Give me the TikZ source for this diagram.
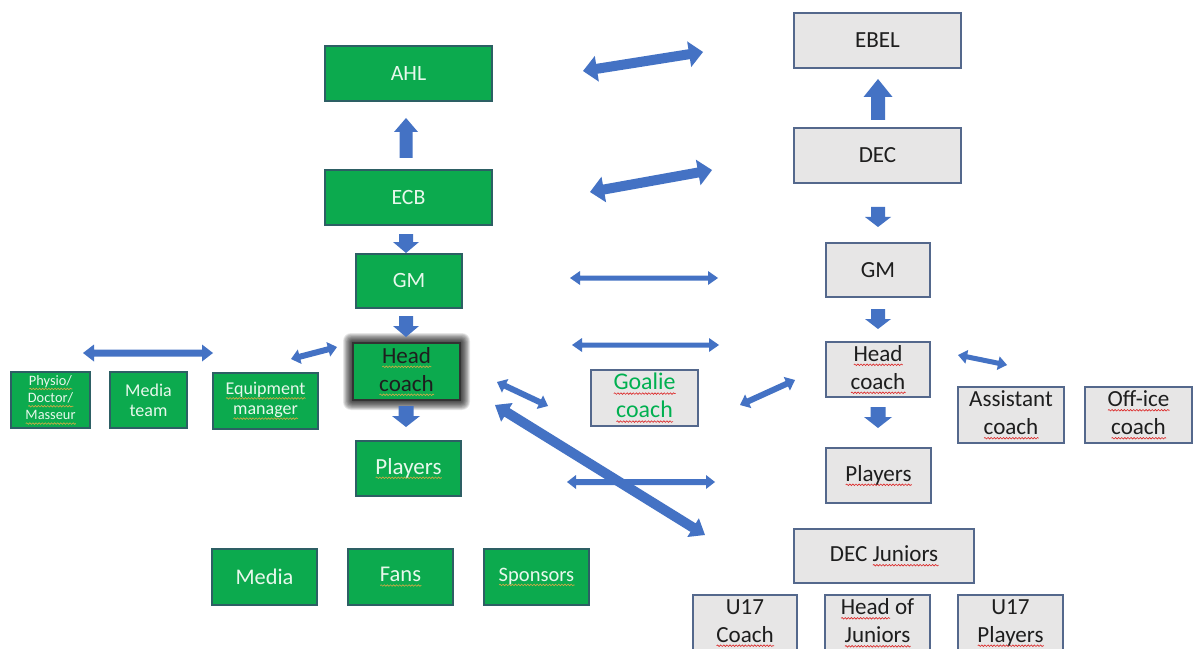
\documentclass[tikz,border=0pt]{standalone}
\usepackage{fontspec}
\setmainfont{Carlito}
\usetikzlibrary{decorations.pathmorphing}
\definecolor{boxgreen}{RGB}{12,170,78}
\definecolor{greenedge}{RGB}{45,95,100}
\definecolor{greyfill}{RGB}{231,230,230}
\definecolor{greyedge}{RGB}{84,104,140}
\definecolor{arrowblue}{RGB}{68,114,196}
\definecolor{mint}{RGB}{232,248,236}
\definecolor{goaliegreen}{RGB}{0,176,80}
\definecolor{darktext}{RGB}{30,30,30}
\definecolor{wavered}{RGB}{220,40,40}
\definecolor{waveolive}{RGB}{205,170,70}
\newdimen\wvlen
\newcommand\wv[2]{\setbox0\hbox{#2}\wvlen=\wd0\relax\leavevmode\rlap{\tikz[baseline=0pt]\draw[#1, fill=none, line width=0.45pt, decorate, decoration={snake, amplitude=0.55pt, segment length=2.2pt}] (0pt,-2.6pt) -- (\the\wvlen,-2.6pt);}\box0\relax}
\newcommand\wvr[1]{\wv{wavered}{#1}}
\newcommand\wvo[1]{\wv{waveolive}{#1}}
% double block arrow: x1 y1 x2 y2 halfshaft halfhead headlen
\newcommand\dbarr[7]{%
 \pgfmathsetmacro\arrAng{atan2(-(#4)+(#2),(#3)-(#1))}%
 \pgfmathsetmacro\arrLen{veclen((#3)-(#1),(#4)-(#2))}%
 \pgfmathsetmacro\arrB{\arrLen-#7}%
 \fill[arrowblue, shift={(#1,#2)}, rotate=\arrAng] (0,0) -- (#7,#6) -- (#7,#5) -- (\arrB,#5) -- (\arrB,#6) -- (\arrLen,0) -- (\arrB,-#6) -- (\arrB,-#5) -- (#7,-#5) -- (#7,-#6) -- cycle;}
% single block arrow: tail x y, tip x y, halfshaft halfhead headlen
\newcommand\sgarr[7]{%
 \pgfmathsetmacro\arrAng{atan2(-(#4)+(#2),(#3)-(#1))}%
 \pgfmathsetmacro\arrLen{veclen((#3)-(#1),(#4)-(#2))}%
 \pgfmathsetmacro\arrB{\arrLen-#7}%
 \fill[arrowblue, shift={(#1,#2)}, rotate=\arrAng] (0,#5) -- (\arrB,#5) -- (\arrB,#6) -- (\arrLen,0) -- (\arrB,-#6) -- (\arrB,-#5) -- (0,-#5) -- cycle;}
\begin{document}
\begin{tikzpicture}[x=0.025cm, y=-0.025cm,
  sz/.style 2 args={minimum width=#1*0.025cm, minimum height=#2*0.025cm},
  gbox/.style={draw=greenedge, fill=boxgreen, text=mint, line width=0.8pt, inner sep=0pt, outer sep=0pt, align=center, font=\fontsize{15.5}{19.9}\selectfont},
  grbox/.style={draw=greyedge, fill=greyfill, text=darktext, line width=0.8pt, inner sep=0pt, outer sep=0pt, align=center, font=\fontsize{16.4}{19.9}\selectfont}]
\useasboundingbox (0,0) rectangle (1200,649);
\clip (0,0) rectangle (1200,649);
\fill[white] (0,0) rectangle (1200,649);

% glow around left head coach
\foreach \g in {10,9.25,...,0.5} {
  \fill[black, opacity=0.085, rounded corners=\g*0.02cm] (353-\g,343-\g) rectangle (460+\g,400+\g);
}

% green (left) side
\node[gbox, sz={167}{55}] (ahl) at (408.5,73.5) {AHL};
\node[gbox, sz={167}{55}] (ecb) at (408.5,197.5) {ECB};
\node[gbox, sz={106}{54}] (gml) at (409,281) {GM};
\node[gbox, sz={107}{57}, draw=black!80, line width=1.2pt, text=darktext, font=\fontsize{16.4}{19.9}\selectfont] (hcl) at (406.5,371.5) {\wvo{Head}\\\wvo{coach}};
\node[gbox, sz={105}{55}, font=\fontsize{16.4}{19.9}\selectfont] (plyl) at (408.5,468.5) {\wvo{Players}};
\node[gbox, sz={79}{56}, font=\fontsize{10.2}{12.3}\selectfont] (physio) at (50.5,400) {\wvo{Physio/}\\\wvo{Doctor/}\\\wvo{Masseur}};
\node[gbox, sz={77}{56}, font=\fontsize{12.8}{14.4}\selectfont] (mteam) at (148.5,400) {Media\\team};
\node[gbox, sz={105}{56}, font=\fontsize{12.8}{14.4}\selectfont] (equip) at (265.5,401) {\wvo{Equipment}\\\wvo{manager}};
\node[gbox, sz={105}{56}, font=\fontsize{15.9}{19}\selectfont] (media) at (264.5,577) {Media};
\node[gbox, sz={105}{56}, font=\fontsize{16}{19}\selectfont] (fans) at (400.5,577) {\wvo{Fans}};
\node[gbox, sz={105}{56}, font=\fontsize{14.6}{18}\selectfont] (spons) at (536.5,577) {\wvo{Sponsors}};

% grey (right) side
\node[grbox, sz={167}{55}] (ebel) at (877.5,40.5) {EBEL};
\node[grbox, sz={167}{55}] (dec) at (877.5,155.5) {DEC};
\node[grbox, sz={104}{54}] (gmr) at (878,270) {GM};
\node[grbox, sz={104}{55}] (hcr) at (878,369.5) {\wvr{Head}\\\wvr{coach}};
\node[grbox, sz={106}{56}] (asst) at (1011,415) {Assistant\\\wvr{coach}};
\node[grbox, sz={107}{56}] (office) at (1138.5,415) {\wvr{Off-ice}\\\wvr{coach}};
\node[grbox, sz={105}{55}] (plyr) at (878.5,475.5) {\wvr{Players}};
\node[grbox, sz={180}{54}] (decj) at (884,556) {DEC \wvr{Juniors}};
\node[grbox, sz={104}{56}] (u17c) at (745,623) {U17\\\wvr{Coach}};
\node[grbox, sz={105}{56}] (hoj) at (877.5,623) {\wvr{Head} of\\\wvr{Juniors}};
\node[grbox, sz={105}{56}] (u17p) at (1010.5,623) {U17\\\wvr{Players}};
\node[grbox, sz={107}{56}, text=goaliegreen, font=\fontsize{17}{19.9}\selectfont] (goalie) at (644.5,398) {\wvr{Goalie}\\\wvr{coach}};

% vertical block arrows
\sgarr{406}{158}{406}{118}{6.5}{12}{14}
\sgarr{406}{234}{406}{253}{7}{13}{11}
\sgarr{406}{316}{406}{337}{7}{13}{11}
\sgarr{406}{406}{406}{427}{7.5}{14}{11}
\sgarr{878}{120}{878}{79}{7}{14.5}{18}
\sgarr{878}{207}{878}{227}{7}{13}{10}
\sgarr{878}{309}{878}{329}{7}{13}{10}
\sgarr{878}{407}{878}{428}{7.5}{14}{11}

% double block arrows
\dbarr{583}{71}{703}{52}{5}{13}{14}
\dbarr{590}{192}{712}{170}{5}{13}{14}
\dbarr{570}{278}{718}{278}{2.5}{7}{10}
\dbarr{572}{345}{719}{345}{2.5}{7}{10}
\dbarr{567}{482}{715}{482}{3}{7}{9}
\dbarr{83}{353}{213}{353}{3.5}{8.5}{11}
\dbarr{291}{359}{337}{347}{3}{7.5}{9}
\dbarr{497}{382}{548}{406}{3}{7.5}{9}
\dbarr{495}{405}{705}{535}{5}{11}{14}
\dbarr{740}{405}{795}{380}{3}{7.5}{9}
\dbarr{958}{355}{1007}{365}{2.5}{7}{9}
\end{tikzpicture}
\end{document}
